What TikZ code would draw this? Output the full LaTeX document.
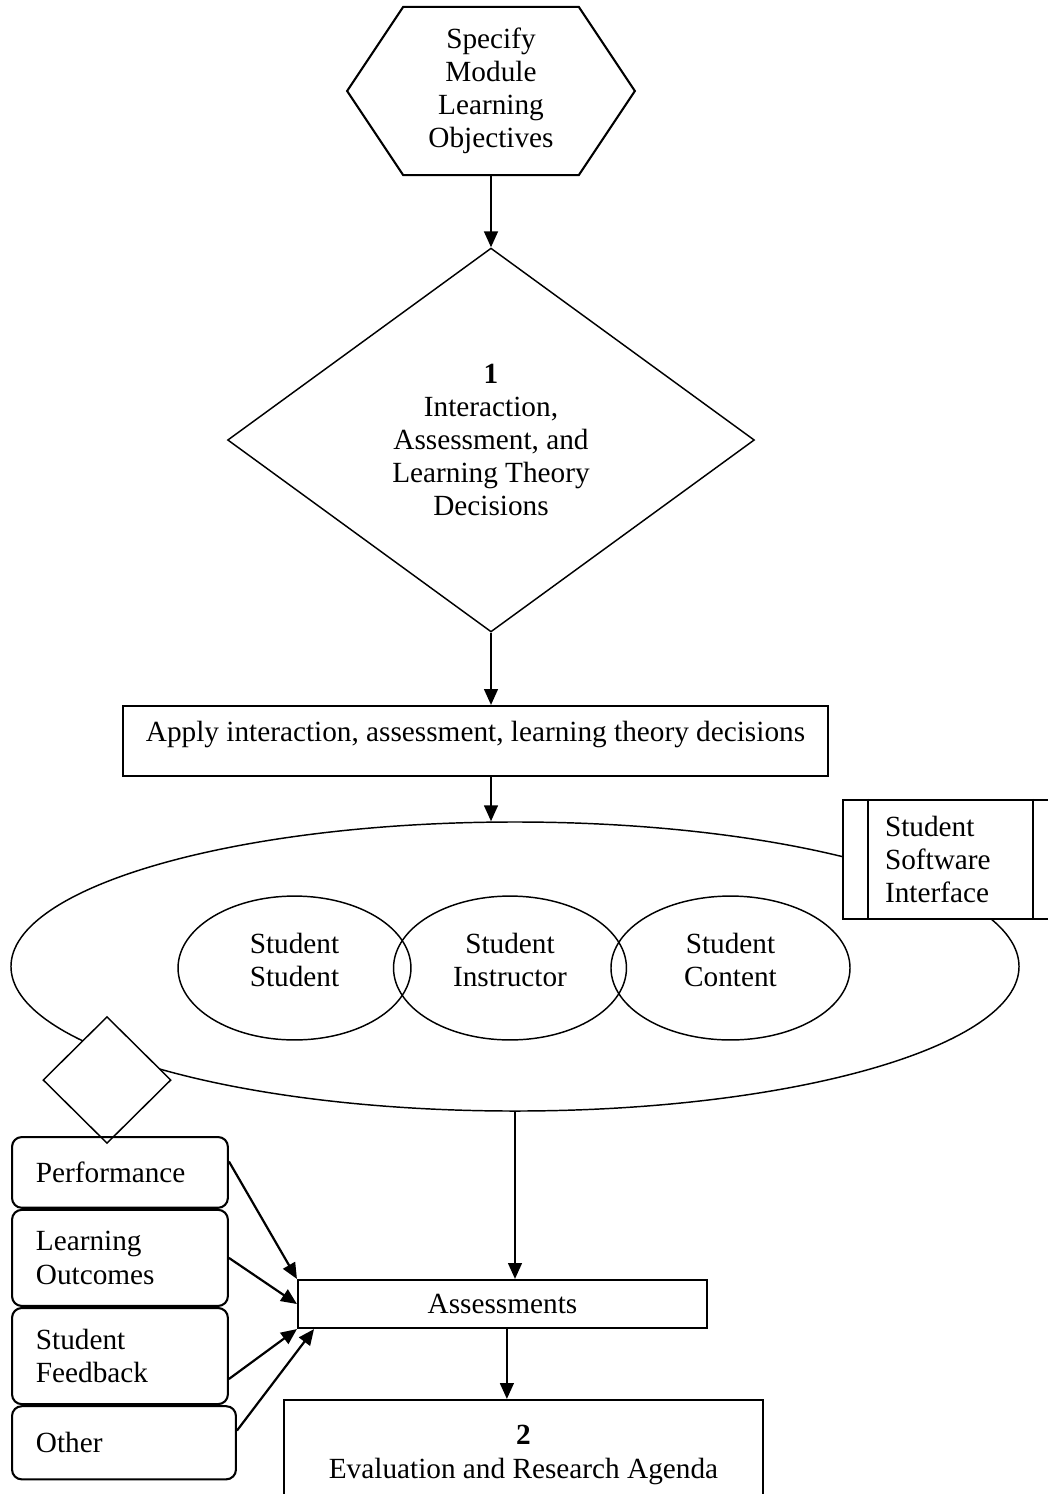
\documentclass[tikz,border=0pt]{standalone}
\usepackage{fontspec}
\setmainfont{Liberation Serif}
\usetikzlibrary{arrows.meta, shapes.geometric, shapes.symbols, positioning}

\begin{document}
\begin{tikzpicture}[x=0.41pt,y=-0.41pt,font=\fontsize{12}{13.6}\selectfont]
\tikzstyle{plain}=[draw=black,line width=0.85pt]
\tikzstyle{hexa}=[plain,signal,signal to=east and west,signal pointer angle=112.6,minimum width=118pt,minimum height=69pt,inner sep=0pt,align=center]
\tikzstyle{decision}=[draw=black,line width=0.6pt,diamond,inner sep=0pt,align=center]
\tikzstyle{box}=[plain,rectangle,align=center]
\tikzstyle{oval}=[draw=black,line width=0.6pt,ellipse,inner sep=0pt,align=center]
\tikzstyle{rbox}=[plain,rectangle,rounded corners=4pt,align=left,inner xsep=9.8pt,text width=68.9pt]
\tikzstyle{flow}=[-{Triangle[length=6.5pt,width=5.6pt]},line width=0.9pt]

\fill[white] (0,0) rectangle (1048,1494);
\useasboundingbox (0,0) rectangle (1048,1494);

% top of the flow
\node[hexa] (spec) at (491,91) {Specify\\Module\\Learning\\Objectives};
\node[decision, minimum width=216pt, minimum height=157.4pt] (decide) at (491,440)
  {\textbf{1}\\Interaction,\\Assessment, and\\Learning Theory\\Decisions};
\node[box, minimum width=289pt, inner ysep=0pt, text height=14.35pt, text depth=14.35pt] (apply) at (475.5,741)
  {Apply interaction, assessment, learning theory decisions};

% interactions
\node[oval, minimum width=413.3pt, minimum height=118.5pt] (inter) at (515,966.5) {};
\node[oval, minimum width=95.5pt, minimum height=59pt] (ss) at (294.5,968) {Student\\Student\\[-7pt]};
\node[oval, minimum width=95.5pt, minimum height=59pt] (si) at (510,968) {Student\\Instructor\\[-7pt]};
\node[oval, minimum width=98pt, minimum height=59pt] (sc) at (730.5,968) {Student\\Content\\[-7pt]};
\node[plain, fill=white, rectangle, align=left, text width=53.7pt, inner xsep=17.2pt, minimum height=48.8pt] (ssi) at (950.5,859.5)
  {Student\\Software\\Interface};
\draw[plain] ([xshift=10.7pt]ssi.north west) -- ([xshift=10.7pt]ssi.south west);
\draw[plain] ([xshift=-10.7pt]ssi.north east) -- ([xshift=-10.7pt]ssi.south east);
\node[decision, fill=white, minimum width=52.5pt, minimum height=52pt] (link) at (107,1080) {};

% kinds of assessment
\node[rbox, minimum height=29pt, anchor=north west] (perf) at (11,1136) {Performance};
\node[rbox, minimum height=39.4pt, below=0pt of perf] (lo) {Learning\\Outcomes};
\node[rbox, minimum height=39.4pt, below=0pt of lo] (sf) {Student\\Feedback};
\node[rbox, minimum height=30pt, text width=72.2pt, below=0pt of sf.south west, anchor=north west] (other) {Other};

\node[box, minimum width=167.7pt, minimum height=19.7pt, inner ysep=0pt] (assess) at (502.5,1304) {Assessments};
\node[box, minimum width=196.4pt, minimum height=45.1pt] (eval) at (523.5,1455)
  {\textbf{2}\\Evaluation and Research Agenda};

\draw[flow] (spec.south) -- (decide.north);
\draw[flow] (decide.south) -- (decide.south |- apply.north);
\draw[flow] (decide.south |- apply.south) -- (decide.south |- inter.north);
\draw[flow] (inter.south) -- (inter.south |- assess.north);
\draw[flow] ([xshift=1.8pt]assess.south) -- ([xshift=1.8pt]assess.south |- eval.north);

\draw[flow] ([yshift=4.5pt]perf.east) -- (assess.north west);
\draw[flow] (lo.east) -- (assess.west);
\draw[flow] ([yshift=-9.4pt]sf.east) -- (assess.south west);
\draw[flow] ([yshift=5pt]other.east) -- ([xshift=7pt]assess.south west);
\end{tikzpicture}
\end{document}
